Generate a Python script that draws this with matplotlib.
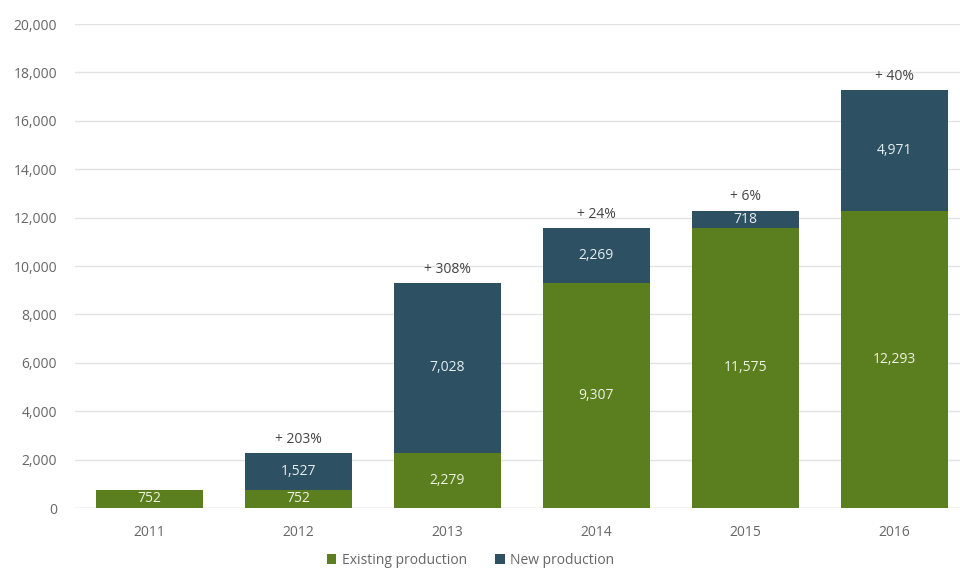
import numpy as np
import matplotlib.pyplot as plt

years = ['2011', '2012', '2013', '2014', '2015', '2016']
existing = [752, 752, 2279, 9307, 11575, 12293]
new = [0, 1527, 7028, 2269, 718, 4971]
growth = ['', '+ 203%', '+ 308%', '+ 24%', '+ 6%', '+ 40%']

GREEN = '#5b7f1e'
BLUE = '#2d5063'

plt.rcParams['font.family'] = ['Open Sans', 'DejaVu Sans']

fig = plt.figure(figsize=(9.6, 5.68), dpi=100)
ax = fig.add_axes([75 / 960, 1 - 508 / 568, 885 / 960, 484 / 568])

x = np.arange(len(years))
w = 0.72
ax.bar(x, existing, w, color=GREEN, label='Existing production', zorder=2)
ax.bar(x, new, w, bottom=existing, color=BLUE, label='New production', zorder=2)

for i in x:
    ax.text(i, existing[i] / 2, f'{existing[i]:,}', ha='center', va='center',
            color='#eef2e4', fontsize=10)
    if new[i]:
        ax.text(i, existing[i] + new[i] / 2, f'{new[i]:,}', ha='center', va='center',
                color='#e6eef2', fontsize=10)
    if growth[i]:
        ax.text(i, existing[i] + new[i] + 250, growth[i], ha='center', va='bottom',
                color='#444444', fontsize=10)

ax.set_ylim(0, 20000)
ax.set_xlim(-0.5, 5.44)
ax.set_yticks(range(0, 20001, 2000))
ax.set_yticklabels([f'{v:,}' for v in range(0, 20001, 2000)])
ax.set_xticks(x)
ax.set_xticklabels(years)
ax.tick_params(length=0, labelsize=10, colors='#666666')
ax.tick_params(axis='y', pad=13)
ax.tick_params(axis='x', pad=12)
ax.grid(axis='y', color='#e3e3e3', linewidth=1, zorder=0)
ax.axhline(0, color='#d9d9d9', linewidth=1, zorder=1)
for s in ax.spines.values():
    s.set_visible(False)

leg = fig.legend(loc='lower center', bbox_to_anchor=(0.49, -0.022), ncol=2, frameon=False,
                 fontsize=10, handlelength=0.7, handleheight=0.7, columnspacing=2.0,
                 handletextpad=0.4)
for t in leg.get_texts():
    t.set_color('#666666')

fig.savefig('out.png', dpi=100)
